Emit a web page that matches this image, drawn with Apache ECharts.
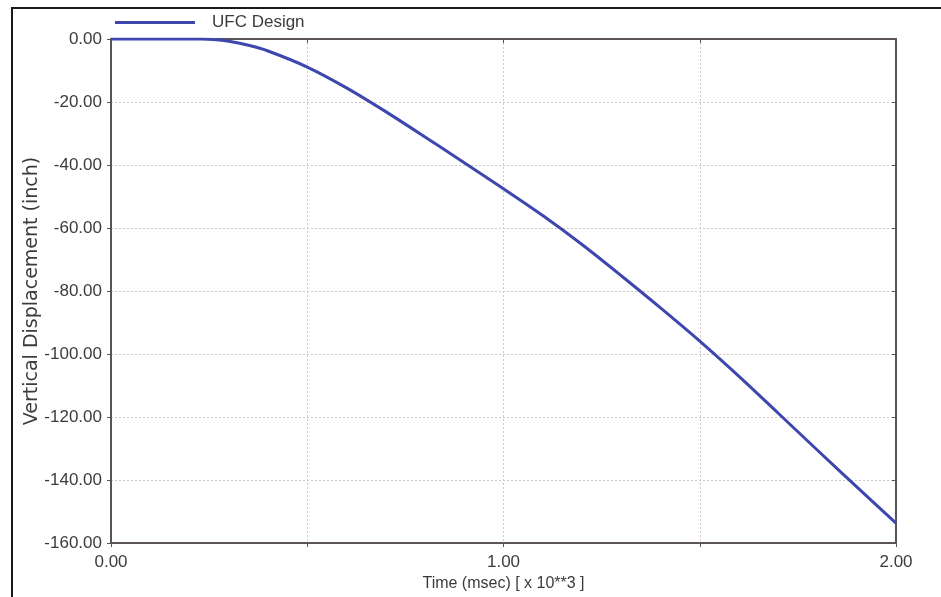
<!DOCTYPE html>
<html>
<head>
<meta charset="utf-8">
<script src="https://cdn.jsdelivr.net/npm/echarts@6/dist/echarts.min.js"></script>
<style>
  html, body { margin: 0; padding: 0; background: #fff; }
  #chart { width: 941px; height: 597px; }
</style>
</head>
<body>
<div id="chart"></div>
<script>
// Time in msec x 10**3
const timeValues = [0, 0.1, 0.2, 0.23, 0.26, 0.3, 0.35, 0.4, 0.5, 0.6, 0.7, 0.8, 0.9, 1.0, 1.1, 1.2, 1.3, 1.4, 1.5, 1.6, 1.7, 1.8, 1.9, 2.0];
// Vertical displacement, inch
const displacement = [0, 0, 0, 0, -0.13, -0.7, -2.0, -3.8, -8.9, -15.5, -23.05, -31.1, -39.3, -47.55, -56.05, -65.25, -75.15, -85.35, -95.9, -107.1, -118.8, -130.55, -142.2, -153.7];
const seriesName = 'UFC Design';

const points = timeValues.map((t, i) => [t, displacement[i]]);

const axisColor = '#5a5553';
const labelColor = '#3d3a3a';
const fontFamily = 'Liberation Sans, Arial, sans-serif';
const gridStyle = { color: '#cdc6c6', type: [2, 2], width: 1 };

const chart = echarts.init(document.getElementById('chart'));
chart.setOption({
  backgroundColor: '#ffffff',
  animation: false,
  textStyle: { fontFamily: fontFamily },
  graphic: [{
    type: 'rect',
    shape: { x: 12, y: 8, width: 940, height: 600 },
    style: { fill: 'none', stroke: '#1a1a1a', lineWidth: 2 },
    z: 100
  }],
  legend: {
    left: 110,
    top: 9,
    icon: 'rect',
    itemWidth: 80,
    itemHeight: 3,
    textStyle: { fontSize: 17, color: labelColor, fontFamily: fontFamily, padding: [0, 0, 0, 12] },
    data: [seriesName]
  },
  grid: { left: 111, top: 39, right: 45, bottom: 49, containLabel: false },
  xAxis: [{
    type: 'value',
    min: 0, max: 2, interval: 0.5,
    name: 'Time (msec) [ x 10**3 ]',
    nameLocation: 'middle',
    nameGap: 33,
    nameMoveOverlap: false,
    nameTextStyle: { fontSize: 16, color: labelColor, fontFamily: fontFamily },
    axisLine: { onZero: false, lineStyle: { color: axisColor, width: 2 } },
    axisTick: { show: true, length: 4, lineStyle: { color: axisColor } },
    axisLabel: {
      fontSize: 17, color: labelColor, margin: 11, fontFamily: fontFamily,
      formatter: v => (Math.abs(v - Math.round(v)) < 1e-9 ? v.toFixed(2) : '')
    },
    splitLine: { show: true, lineStyle: gridStyle }
  }, {
    type: 'value',
    position: 'top',
    min: 0, max: 2, interval: 0.5,
    axisLine: { onZero: false, lineStyle: { color: axisColor, width: 2 } },
    axisTick: { show: true, inside: true, length: 4, lineStyle: { color: axisColor } },
    axisLabel: { show: false },
    splitLine: { show: false }
  }],
  yAxis: [{
    type: 'value',
    min: -160, max: 0, interval: 20,
    name: 'Vertical Displacement (inch)',
    nameLocation: 'middle',
    nameGap: 69,
    nameMoveOverlap: false,
    nameTextStyle: { fontSize: 19, color: labelColor, fontFamily: 'DejaVu Sans, sans-serif' },
    axisLine: { onZero: false, lineStyle: { color: axisColor, width: 2 } },
    axisTick: { show: true, length: 4, lineStyle: { color: axisColor } },
    axisLabel: { fontSize: 17, color: labelColor, margin: 9, fontFamily: fontFamily, formatter: v => v.toFixed(2) },
    splitLine: { show: true, lineStyle: gridStyle }
  }, {
    type: 'value',
    position: 'right',
    min: -160, max: 0, interval: 20,
    axisLine: { onZero: false, lineStyle: { color: axisColor, width: 2 } },
    axisTick: { show: true, inside: true, length: 4, lineStyle: { color: axisColor } },
    axisLabel: { show: false },
    splitLine: { show: false }
  }],
  series: [{
    name: seriesName,
    type: 'line',
    xAxisIndex: 0,
    yAxisIndex: 0,
    data: points,
    smooth: 0.3,
    showSymbol: false,
    lineStyle: { color: '#3d47ae', width: 3 },
    itemStyle: { color: '#3d47ae' },
    z: 5
  }]
});
</script>
</body>
</html>
